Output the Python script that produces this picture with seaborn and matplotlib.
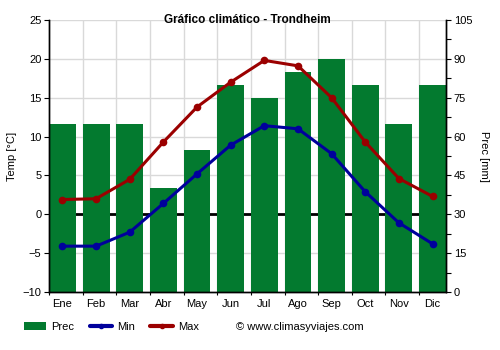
import numpy as np
import pandas as pd
import matplotlib
matplotlib.use("Agg")
import matplotlib.pyplot as plt
from matplotlib.lines import Line2D
from matplotlib.patches import Patch
from matplotlib.ticker import FixedLocator, MultipleLocator, NullFormatter
import seaborn as sns

# Monthly climate data for Trondheim
meses = ["Ene", "Feb", "Mar", "Abr", "May", "Jun", "Jul", "Ago", "Sep", "Oct", "Nov", "Dic"]
prec = [65, 65, 65, 40, 55, 80, 75, 85, 90, 80, 65, 80]            # mm
t_min = [-4.1, -4.1, -2.3, 1.4, 5.2, 8.9, 11.4, 11.0, 7.8, 2.9, -1.1, -3.8]  # °C
t_max = [1.9, 2.0, 4.5, 9.3, 13.8, 17.0, 19.8, 19.1, 15.0, 9.3, 4.6, 2.3]    # °C

temp_ticks = [-10, -5, 0, 5, 10, 15, 20, 25]
prec_ticks = [0, 15, 30, 45, 60, 75, 90, 105]

df = pd.DataFrame({"mes": meses, "pos": np.arange(len(meses)),
                   "prec": prec, "tmin": t_min, "tmax": t_max})

sns.set_theme(style="white")
plt.rcParams["font.family"] = ["Liberation Sans", "DejaVu Sans"]
plt.rcParams.update({"text.color": "black", "axes.labelcolor": "black",
                     "xtick.color": "black", "ytick.color": "black"})

GREEN = "#037a2f"
BLUE = "#00009c"
RED = "#9b0000"
GRID = "#d9d9d9"
FS = 8
BAR_W = 0.8
XLIM = (-BAR_W / 2, len(meses) - 1 + BAR_W / 2)

fig = plt.figure(figsize=(5, 3.5), dpi=100)
ax2 = fig.add_axes([49 / 500, 1 - 292 / 350, (446 - 49) / 500, (292 - 20) / 350])
ax = ax2.twinx()
# temperature axis on the left, precipitation on the right
ax.yaxis.tick_left()
ax.yaxis.set_label_position("left")
ax2.yaxis.tick_right()
ax2.yaxis.set_label_position("right")

# precipitation bars (behind); grid sits on the same axes so the bars cover it
bounds = np.arange(len(meses)) - BAR_W / 2
ax2.set_ylim(0, 105)
for b in bounds[1:]:
    ax2.axvline(b, color=GRID, lw=1, zorder=0)
for t in prec_ticks[1:]:
    ax2.axhline(t, color=GRID, lw=1, zorder=0)
ax2.axhline(30, color="black", lw=2, zorder=0.5)
sns.barplot(data=df, x="mes", y="prec", ax=ax2, color=GREEN, width=BAR_W,
            saturation=1, zorder=2, linewidth=0)

# temperature lines (front)
ax.set_ylim(-10, 25)
sns.lineplot(data=df, x="pos", y="tmin", ax=ax, color=BLUE, lw=2.2,
             marker="o", markersize=5.5, markeredgewidth=0, sort=False)
sns.lineplot(data=df, x="pos", y="tmax", ax=ax, color=RED, lw=2.2,
             marker="o", markersize=5.5, markeredgewidth=0, sort=False)
ax.set_xlim(*XLIM)
ax2.set_xlim(*XLIM)

# x axis: tick marks at bar edges, month names under the bar centres
ax2.xaxis.set_major_locator(FixedLocator(bounds))
ax2.xaxis.set_major_formatter(NullFormatter())
ax2.xaxis.set_minor_locator(FixedLocator(np.arange(len(meses))))
ax2.set_xticklabels(meses, minor=True)
ax2.tick_params(axis="x", which="major", bottom=True, length=2.5, width=0.8, color="black")
ax2.tick_params(axis="x", which="minor", bottom=True, length=0, pad=5, labelsize=FS,
                labelcolor="black")
ax2.set_xlabel("")

ax.set_yticks(temp_ticks)
ax.tick_params(axis="y", left=True, right=False, length=3.5, width=0.8, color="black",
               labelsize=FS, pad=2, labelcolor="black")
ax.set_ylabel("Temp [°C]", fontsize=FS, labelpad=4, color="black")
ax.set_xlabel("")

ax2.set_yticks(prec_ticks)
ax2.yaxis.set_minor_locator(MultipleLocator(7.5))
ax2.tick_params(axis="y", which="both", right=True, left=False, length=3.5, width=0.8,
                color="black", labelsize=FS, pad=2, labelcolor="black")
ax2.set_ylabel("Prec [mm]", fontsize=FS, rotation=270, labelpad=12, color="black")

for a in (ax, ax2):
    a.spines["top"].set_visible(False)
    for s in ("left", "right", "bottom"):
        a.spines[s].set_color("black")
        a.spines[s].set_linewidth(1)

ax.set_title("Gráfico climático - Trondheim", fontsize=8.5, fontweight="bold", pad=0,
             y=1.0, va="center", color="black")

handles = [
    Patch(facecolor=GREEN, edgecolor="none"),
    Line2D([], [], color=BLUE, lw=3, marker="o", markersize=3),
    Line2D([], [], color=RED, lw=3, marker="o", markersize=3),
]
fig.legend(handles, ["Prec", "Min", "Max"], loc="center left",
           bbox_to_anchor=(14 / 500, 1 - 327 / 350), ncol=3, frameon=False,
           fontsize=FS, handlelength=2.0, handletextpad=0.45, columnspacing=1.4,
           handleheight=0.75, labelcolor="black")
fig.text(236 / 500, 1 - 327 / 350, "© www.climasyviajes.com", fontsize=FS, va="center",
         color="black")

fig.savefig("out.png", dpi=100)
